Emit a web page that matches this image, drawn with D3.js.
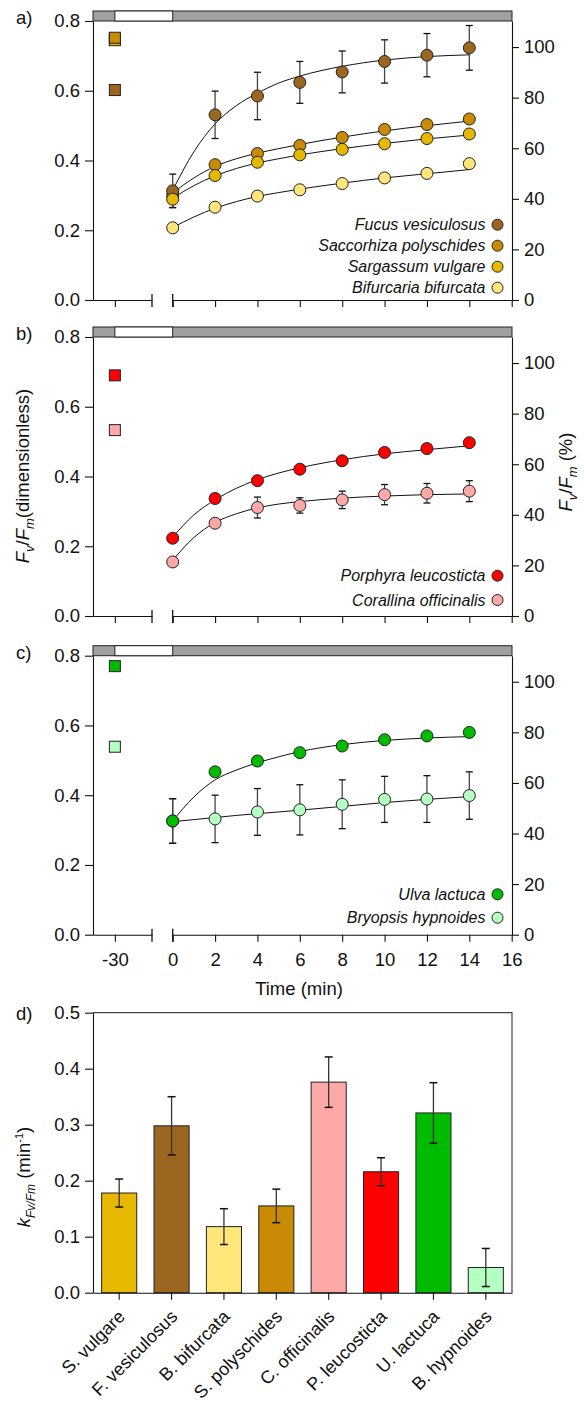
<!DOCTYPE html>
<html><head><meta charset="utf-8">
<script src="https://cdn.jsdelivr.net/npm/d3@7"></script>
<style>
body{margin:0;background:#fff;}
svg text{font-family:Arial,"Liberation Sans",sans-serif;fill:#111;}
</style></head><body>
<svg id="c" width="584" height="1405"></svg>
<script>
// ---------- DATA ----------
const times = [0,2,4,6,8,10,12,14];
const fitTimes = [0,1,2,3,4,5,6,8,10,12,14];
const timeTicks = [0,2,4,6,8,10,12,14,16];
const breakTicks = [-30];
const darkPeriod = [-30, 0];
const leftTicks = [0,0.2,0.4,0.6,0.8];
const rightTicks = [0,20,40,60,80,100];

// panel a
const fucusVal = [0.313,0.531,0.585,0.624,0.654,0.684,0.702,0.723];
const fucusErr = [0.048,0.068,0.068,0.060,0.060,0.062,0.062,0.064];
const fucusFit = [0.315,0.425,0.505,0.557,0.593,0.622,0.642,0.670,0.688,0.698,0.703];
const fucusDark = 0.602;
const saccVal = [0.300,0.388,0.420,0.443,0.466,0.489,0.503,0.519];
const saccErr = [0.008,0.008,0.008,0.008,0.008,0.008,0.008,0.008];
const saccFit = [0.307,0.350,0.383,0.405,0.421,0.434,0.446,0.467,0.485,0.500,0.513];
const saccDark = 0.752;
const sargVal = [0.289,0.357,0.395,0.416,0.432,0.448,0.463,0.476];
const sargErr = [0.024,0.010,0.010,0.010,0.010,0.010,0.010,0.010];
const sargFit = [0.292,0.328,0.356,0.377,0.393,0.405,0.416,0.434,0.449,0.462,0.473];
const sargDark = 0.745;
const bifuVal = [0.207,0.266,0.298,0.316,0.334,0.350,0.363,0.391];
const bifuErr = [0.008,0.008,0.008,0.008,0.008,0.008,0.008,0.008];
const bifuFit = [0.208,0.238,0.263,0.282,0.297,0.308,0.318,0.335,0.350,0.362,0.374];
const bifuDark = 0.748;

// panel b
const porpVal = [0.223,0.337,0.388,0.421,0.445,0.469,0.480,0.497];
const porpErr = [0.010,0.012,0.010,0.010,0.010,0.010,0.010,0.010];
const porpFit = [0.226,0.290,0.333,0.366,0.391,0.410,0.425,0.448,0.465,0.477,0.488];
const porpDark = 0.690;
const coraVal = [0.155,0.266,0.311,0.317,0.333,0.348,0.352,0.358];
const coraErr = [0.008,0.010,0.030,0.022,0.025,0.029,0.028,0.030];
const coraFit = [0.160,0.225,0.268,0.293,0.310,0.321,0.328,0.338,0.344,0.348,0.350];
const coraDark = 0.533;

// panel c
const ulvaVal = [0.326,0.467,0.498,0.522,0.541,0.559,0.570,0.580];
const ulvaErr = [0.064,0.010,0.010,0.010,0.010,0.010,0.010,0.010];
const ulvaFit = [0.326,0.395,0.444,0.472,0.493,0.510,0.525,0.545,0.557,0.564,0.568];
const ulvaDark = 0.770;
const bryoVal = [0.326,0.332,0.352,0.358,0.374,0.388,0.389,0.399];
const bryoErr = [0.064,0.068,0.067,0.072,0.070,0.066,0.067,0.068];
const bryoFit = [0.324,0.330,0.336,0.342,0.347,0.352,0.357,0.368,0.379,0.388,0.396];
const bryoDark = 0.539;

// panel d
const kSpecies = ['S. vulgare','F. vesiculosus','B. bifurcata','S. polyschides','C. officinalis','P. leucosticta','U. lactuca','B. hypnoides'];
const kValues = [0.178,0.298,0.118,0.155,0.376,0.216,0.321,0.045];
const kErrors = [0.025,0.052,0.032,0.030,0.045,0.025,0.054,0.034];
const kTicks = [0,0.1,0.2,0.3,0.4,0.5];

// colours
const C = {fucus:'#9B661F', sacc:'#C98A05', sarg:'#E6B800', bifu:'#FFE57A',
  porp:'#FF0000', cora:'#FFA8A8', ulva:'#00BB00', bryo:'#B6FFC2'};
const kColors = [C.sarg, C.fucus, C.bifu, C.sacc, C.cora, C.porp, C.ulva, C.bryo];

// ---------- DRAW ----------
const svg = d3.select('#c');
const X0 = 93, X1 = 512;
const x = d3.scaleLinear().domain([0,16]).range([172.7, 511.7]);
const xb = d3.scaleLinear().domain([-31.03,-28.25]).range([X0, 152]);
const fmt1 = d3.format('.1f');

function styleAxis(g){
  g.selectAll('path.domain').attr('stroke','#111').attr('stroke-width',1.1);
  g.selectAll('.tick line').attr('stroke','#111').attr('stroke-width',1.1);
  g.selectAll('.tick text').attr('font-size',18.5).attr('fill','#111')
    .attr('font-family','Arial, "Liberation Sans", sans-serif');
}

function panel(top, bottom, letter, series, showX, legendY0, legendStep) {
  const y = d3.scaleLinear().domain([0,0.8]).range([bottom, top]);
  const yR = d3.scaleLinear().domain([0,110.3]).range([bottom, top]);
  const g = svg.append('g');
  // top bar
  g.append('rect').attr('x',X0).attr('y',top-10).attr('width',X1-X0).attr('height',10)
    .attr('fill','#a0a0a0').attr('stroke','#222').attr('stroke-width',1);
  g.append('rect').attr('x',xb(darkPeriod[0])).attr('y',top-10)
    .attr('width',x(darkPeriod[1])-xb(darkPeriod[0])).attr('height',10)
    .attr('fill','#fff').attr('stroke','#222').attr('stroke-width',1);
  // axes
  g.append('g').attr('transform',`translate(${X0},0)`)
    .call(d3.axisLeft(y).tickValues(leftTicks).tickFormat(fmt1).tickSize(8).tickSizeOuter(0).tickPadding(5))
    .call(styleAxis);
  g.append('g').attr('transform',`translate(${X1},0)`)
    .call(d3.axisRight(yR).tickValues(rightTicks).tickFormat(d3.format('d')).tickSize(7).tickSizeOuter(0).tickPadding(5))
    .call(styleAxis);
  g.append('g').attr('transform',`translate(0,${bottom})`)
    .call(d3.axisBottom(x).tickValues(timeTicks).tickFormat(showX? d3.format('d') : '').tickSize(7).tickSizeOuter(0).tickPadding(11))
    .call(styleAxis);
  g.append('g').attr('transform',`translate(0,${bottom})`)
    .call(d3.axisBottom(xb).tickValues(breakTicks).tickFormat(showX? (d=>String(d)) : '').tickSize(7).tickSizeOuter(0).tickPadding(11))
    .call(styleAxis);
  // break marks
  [xb.range()[1], x(0)].forEach(bx=>{
    g.append('line').attr('x1',bx).attr('x2',bx).attr('y1',bottom-6).attr('y2',bottom+7)
      .attr('stroke','#111').attr('stroke-width',1.3);
  });
  // letter
  g.append('text').attr('x',16).attr('y',top+3).attr('font-size',18.5).text(letter);

  const line = d3.line().x(d=>x(d[0])).y(d=>y(d[1])).curve(d3.curveMonotoneX);
  // curves
  series.forEach(s=>{
    g.append('path').datum(fitTimes.map((t,i)=>[t,s.fit[i]]))
      .attr('d',line).attr('fill','none').attr('stroke','#111').attr('stroke-width',1);
  });
  // error bars
  series.forEach(s=>{
    const eb = g.append('g');
    times.forEach((t,i)=>{
      const cx = x(t), y1 = y(s.val[i]-s.err[i]), y2 = y(s.val[i]+s.err[i]);
      eb.append('line').attr('x1',cx).attr('x2',cx).attr('y1',y1).attr('y2',y2).attr('stroke','#444').attr('stroke-width',1.3);
      [y1,y2].forEach(yy=> eb.append('line').attr('x1',cx-3.5).attr('x2',cx+3.5).attr('y1',yy).attr('y2',yy).attr('stroke','#111').attr('stroke-width',1.3));
    });
  });
  // squares
  series.slice().sort((a,b)=>a.sqOrder-b.sqOrder).forEach(s=>{
    g.append('rect').attr('x',xb(-30)-5.5).attr('y',y(s.dark)-5.5).attr('width',11).attr('height',11)
      .attr('fill',s.color).attr('stroke','#222').attr('stroke-width',1);
  });
  // points
  series.slice().sort((a,b)=>a.ptOrder-b.ptOrder).forEach(s=>{
    g.selectAll(null).data(times.map((t,i)=>[t,s.val[i]])).enter().append('circle')
      .attr('cx',d=>x(d[0])).attr('cy',d=>y(d[1])).attr('r',6)
      .attr('fill',s.color).attr('stroke','#222').attr('stroke-width',1);
  });
  // legend
  series.forEach((s,i)=>{
    const ly = legendY0 + i*legendStep;
    g.append('circle').attr('cx',497.5).attr('cy',ly).attr('r',5.5).attr('fill',s.color).attr('stroke','#222').attr('stroke-width',1);
    g.append('text').attr('x',485.5).attr('y',ly+5.5).attr('text-anchor','end')
      .attr('font-size',16).attr('font-style','italic').text(s.name);
  });
  return y;
}

panel(21, 300, 'a)', [
  {name:'Fucus vesiculosus', val:fucusVal, err:fucusErr, fit:fucusFit, dark:fucusDark, color:C.fucus, sqOrder:3, ptOrder:1},
  {name:'Saccorhiza polyschides', val:saccVal, err:saccErr, fit:saccFit, dark:saccDark, color:C.sacc, sqOrder:2, ptOrder:0},
  {name:'Sargassum vulgare', val:sargVal, err:sargErr, fit:sargFit, dark:sargDark, color:C.sarg, sqOrder:1, ptOrder:2},
  {name:'Bifurcaria bifurcata', val:bifuVal, err:bifuErr, fit:bifuFit, dark:bifuDark, color:C.bifu, sqOrder:0, ptOrder:3}
], false, 224.7, 21);

panel(337, 616, 'b)', [
  {name:'Porphyra leucosticta', val:porpVal, err:porpErr, fit:porpFit, dark:porpDark, color:C.porp, sqOrder:0, ptOrder:0},
  {name:'Corallina officinalis', val:coraVal, err:coraErr, fit:coraFit, dark:coraDark, color:C.cora, sqOrder:1, ptOrder:1}
], false, 575.7, 24.3);

panel(655.7, 934.7, 'c)', [
  {name:'Ulva lactuca', val:ulvaVal, err:ulvaErr, fit:ulvaFit, dark:ulvaDark, color:C.ulva, sqOrder:0, ptOrder:1},
  {name:'Bryopsis hypnoides', val:bryoVal, err:bryoErr, fit:bryoFit, dark:bryoDark, color:C.bryo, sqOrder:1, ptOrder:0}
], true, 894.3, 23.4);

// axis titles for line panels
function fvfm(t, suffix){
  t.append('tspan').attr('font-style','italic').text('F');
  t.append('tspan').attr('font-style','italic').attr('font-size','70%').attr('dy',5).text('v');
  t.append('tspan').attr('dy',-5).text('/');
  t.append('tspan').attr('font-style','italic').text('F');
  t.append('tspan').attr('font-style','italic').attr('font-size','70%').attr('dy',5).text('m');
  t.append('tspan').attr('dy',-5).text(suffix);
}
const tl = svg.append('text').attr('text-anchor','middle').attr('font-size',18.5)
  .attr('transform','translate(29,476) rotate(-90)');
fvfm(tl, '(dimensionless)');
const tr = svg.append('text').attr('text-anchor','middle').attr('font-size',18.5)
  .attr('transform','translate(572,472) rotate(-90)');
fvfm(tr, ' (%)');
svg.append('text').attr('x',299).attr('y',995).attr('text-anchor','middle').attr('font-size',18.5).text('Time (min)');

// ---------- PANEL D ----------
const dTop = 1012.7, dBot = 1292.7;
const yd = d3.scaleLinear().domain([0,0.5]).range([dBot, dTop]);
const xd = d3.scaleBand().domain(kSpecies).range([X0, X1]).paddingInner(0.33).paddingOuter(0.165);
const gd = svg.append('g');
gd.append('path').attr('d',`M${X0},${dTop}H${X1}V${dBot}`).attr('fill','none').attr('stroke','#444').attr('stroke-width',1.2);
gd.selectAll('rect.bar').data(kSpecies).enter().append('rect').attr('class','bar')
  .attr('x',d=>xd(d)).attr('width',xd.bandwidth())
  .attr('y',(d,i)=>yd(kValues[i])).attr('height',(d,i)=>dBot-yd(kValues[i]))
  .attr('fill',(d,i)=>kColors[i]).attr('stroke','#222').attr('stroke-width',1);
kSpecies.forEach((sp,i)=>{
  const cx = xd(sp)+xd.bandwidth()/2, y1 = yd(kValues[i]-kErrors[i]), y2 = yd(kValues[i]+kErrors[i]);
  gd.append('line').attr('x1',cx).attr('x2',cx).attr('y1',y1).attr('y2',y2).attr('stroke','#333').attr('stroke-width',1.3);
  [y1,y2].forEach(yy=>gd.append('line').attr('x1',cx-4).attr('x2',cx+4).attr('y1',yy).attr('y2',yy).attr('stroke','#111').attr('stroke-width',1.5));
});
gd.append('g').attr('transform',`translate(${X0},0)`)
  .call(d3.axisLeft(yd).tickValues(kTicks).tickFormat(fmt1).tickSize(8).tickSizeOuter(0).tickPadding(5))
  .call(styleAxis);
gd.append('g').attr('transform',`translate(0,${dBot})`)
  .call(d3.axisBottom(xd).tickFormat('').tickSize(7).tickSizeOuter(0))
  .call(styleAxis);
kSpecies.forEach(sp=>{
  const cx = xd(sp)+xd.bandwidth()/2;
  gd.append('text').attr('text-anchor','end').attr('font-size',18)
    .attr('transform',`translate(${cx+7},${dBot+25}) rotate(-45)`).text(sp);
});
gd.append('text').attr('x',16).attr('y',dTop+7).attr('font-size',18.5).text('d)');
const tk = gd.append('text').attr('text-anchor','middle').attr('font-size',18.5)
  .attr('transform','translate(30,1177) rotate(-90)');
tk.append('tspan').attr('font-style','italic').text('k');
tk.append('tspan').attr('font-style','italic').attr('font-size','65%').attr('dy',5).text('Fv/Fm');
tk.append('tspan').attr('dy',-5).text(' (min');
tk.append('tspan').attr('font-size','60%').attr('dy',-7).text('-1');
tk.append('tspan').attr('dy',7).text(')');
</script></body></html>
